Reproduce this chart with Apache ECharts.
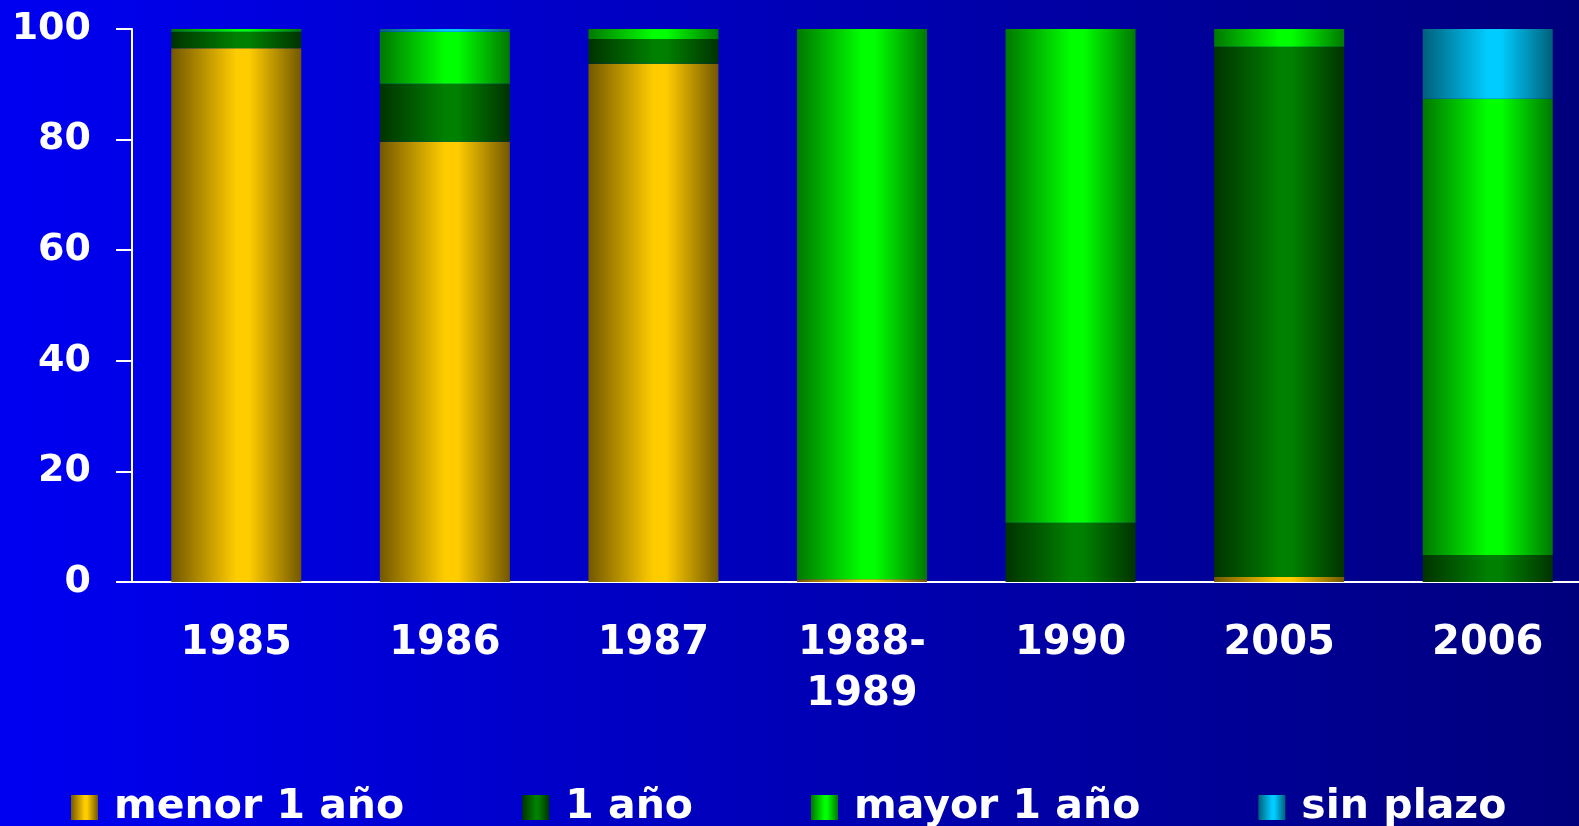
<!DOCTYPE html>
<html>
<head>
<meta charset="utf-8">
<script src="https://cdn.jsdelivr.net/npm/echarts@6/dist/echarts.min.js"></script>
<style>
html,body{margin:0;padding:0;width:1579px;height:826px;overflow:hidden;background:#00007e;}
#c{width:1592px;height:826px;}
</style>
</head>
<body>
<div id="c"></div>
<script>
const categories = ['1985', '1986', '1987', '1988-\n1989', '1990', '2005', '2006'];
const seriesNames = ['menor 1 año', '1 año', 'mayor 1 año', 'sin plazo'];
const menor1 = [96.5, 79.6, 93.7, 0.5, 0, 0.9, 0];
const uno = [3.0, 10.5, 4.5, 0, 10.7, 95.9, 4.9];
const mayor1 = [0.5, 9.4, 1.8, 99.5, 89.3, 3.2, 82.5];
const sinPlazo = [0, 0.5, 0, 0, 0, 0, 12.6];
const yTicks = [0, 20, 40, 60, 80, 100];

function grad(dark, bright) {
  return new echarts.graphic.LinearGradient(0, 0, 1, 0, [
    {offset: 0, color: dark},
    {offset: 0.5, color: bright},
    {offset: 0.6, color: bright},
    {offset: 1, color: dark}
  ]);
}
const colors = [
  grad('#735800', '#ffcc00'),
  grad('#003300', '#008000'),
  grad('#007800', '#00ff00'),
  grad('#00607a', '#00ccff')
];
const values = [menor1, uno, mayor1, sinPlazo];

const chart = echarts.init(document.getElementById('c'));
chart.setOption({
  animation: false,
  backgroundColor: new echarts.graphic.LinearGradient(0, 0, 1, 0, [
    {offset: 0, color: '#0000f2'},
    {offset: 1, color: '#00007c'}
  ]),
  grid: {left: 132, right: 0, top: 29, height: 553, containLabel: false},
  legend: {
    data: seriesNames,
    top: 782,
    left: 66,
    itemWidth: 27,
    itemHeight: 25,
    itemGap: 118,
    icon: 'rect',
    textStyle: {color: '#ffffff', fontFamily: 'DejaVu Sans', fontWeight: 'bold', fontSize: 41, padding: [0, 0, 0, 11]}
  },
  xAxis: {
    type: 'category',
    data: categories,
    axisLine: {lineStyle: {color: '#ffffff', width: 2}},
    axisTick: {show: false},
    axisLabel: {color: '#ffffff', fontFamily: 'DejaVu Sans', fontWeight: 'bold', fontSize: 40, lineHeight: 51, margin: 36, interval: 0}
  },
  yAxis: {
    type: 'value',
    min: 0, max: 100, interval: 20,
    axisLine: {show: true, lineStyle: {color: '#ffffff', width: 2}},
    axisTick: {show: true, length: 16, lineStyle: {color: '#ffffff', width: 2}},
    splitLine: {show: false},
    axisLabel: {color: '#ffffff', fontFamily: 'DejaVu Sans', fontWeight: 'bold', fontSize: 38, margin: 41,
      formatter: v => yTicks.includes(v) ? String(v) : ''}
  },
  series: seriesNames.map((n, i) => ({
    name: n,
    type: 'bar',
    stack: 'total',
    barWidth: 130,
    data: values[i],
    itemStyle: {color: colors[i]}
  }))
});
</script>
</body>
</html>
